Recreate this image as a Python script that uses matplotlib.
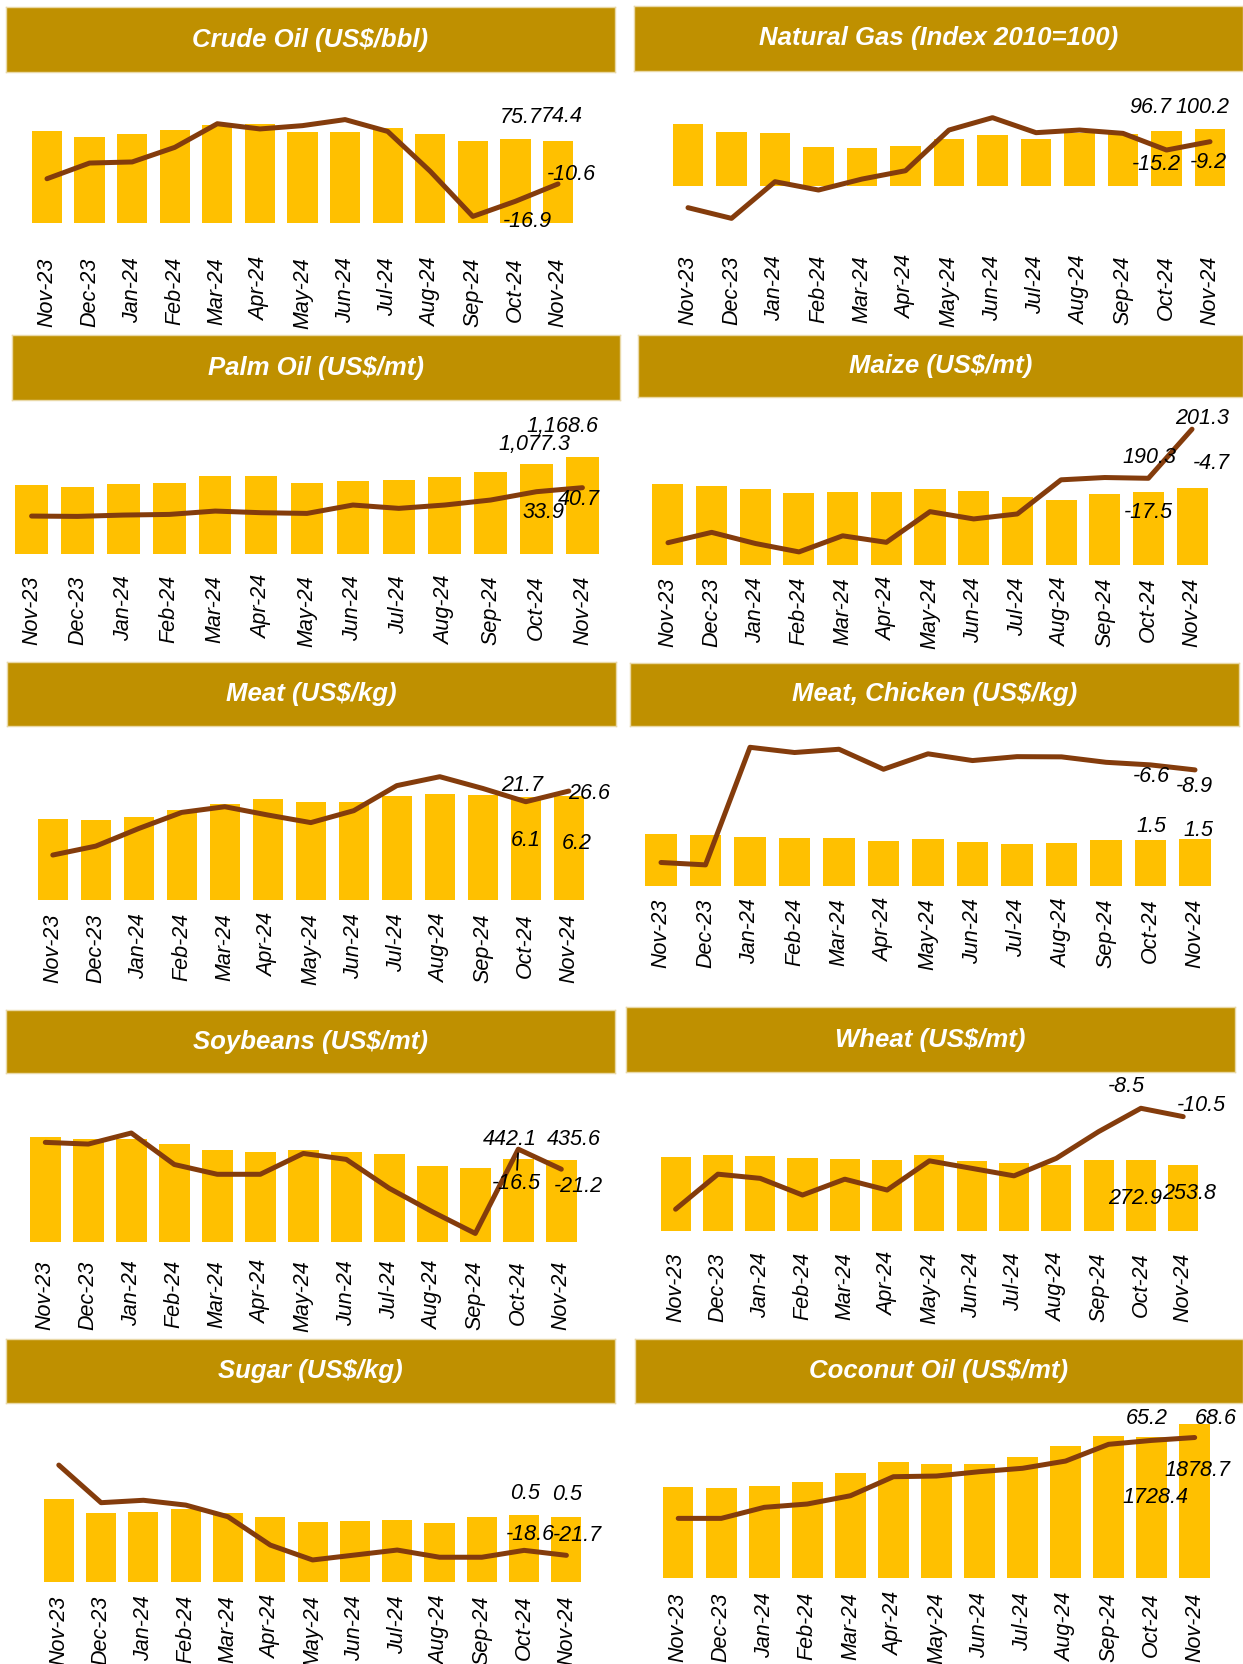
import matplotlib
matplotlib.use("Agg")
from matplotlib import pyplot as plt

W, H = 1243, 1664

months = ["Nov-23", "Dec-23", "Jan-24", "Feb-24", "Mar-24", "Apr-24", "May-24",
          "Jun-24", "Jul-24", "Aug-24", "Sep-24", "Oct-24", "Nov-24"]

titles = ["Crude Oil (US$/bbl)", "Natural Gas (Index 2010=100)", "Palm Oil (US$/mt)",
          "Maize (US$/mt)", "Meat (US$/kg)", "Meat, Chicken (US$/kg)",
          "Soybeans (US$/mt)", "Wheat (US$/mt)", "Sugar (US$/kg)", "Coconut Oil (US$/mt)"]

# bars = price, line = % change year on year
crude_price = [82.9, 77.8, 80.2, 83.8, 89.0, 89.9, 82.0, 82.3, 85.7, 80.8, 74.2, 75.7, 74.4]
crude_yoy = [-8.7, -3.0, -2.6, 2.7, 11.3, 9.4, 10.6, 12.8, 8.5, -6.0, -22.4, -16.9, -10.6]

gas_price = [110.3, 94.9, 93.2, 68.4, 67.2, 70.2, 82.5, 90.2, 83.1, 93.7, 91.4, 96.7, 100.2]
gas_yoy = [-56.7, -64.4, -38.0, -44.0, -36.1, -30.1, -0.8, 8.1, -2.7, -0.8, -3.2, -15.2, -9.2]

palm_price = [830, 810, 842, 854, 942, 938, 858, 874, 894, 930, 982, 1077.3, 1168.6]
palm_yoy = [-7.6, -8.2, -5.9, -4.8, 0.9, -1.9, -3.1, 11.2, 5.5, 11.2, 19.7, 33.9, 40.7]

maize_price = [210.1, 205.7, 197.9, 188.4, 190.1, 191.0, 197.0, 192.7, 178.0, 169.3, 184.9, 190.3, 201.3]
maize_yoy = [-34.3, -31.6, -34.5, -36.7, -32.5, -34.2, -26.2, -28.1, -26.8, -17.9, -17.3, -17.5, -4.7]

meat_price = [4.83, 4.73, 4.95, 5.33, 5.70, 6.02, 5.84, 5.80, 6.16, 6.30, 6.26, 6.1, 6.2]
meat_yoy = [-2.8, 1.3, 9.4, 16.8, 19.4, 15.6, 12.1, 17.6, 29.1, 33.2, 27.8, 21.7, 26.6]

chicken_price = [1.68, 1.64, 1.57, 1.53, 1.53, 1.45, 1.52, 1.40, 1.35, 1.38, 1.46, 1.49, 1.52]
chicken_yoy = [-51.5, -52.6, 1.5, -0.9, 0.6, -8.6, -1.5, -4.6, -2.8, -2.9, -5.4, -6.6, -8.9]

soy_price = [554.5, 545.7, 547.5, 519.2, 487.4, 476.8, 489.2, 478.6, 468.0, 400.9, 390.3, 442.1, 435.6]
soy_yoy = [-14.9, -15.3, -12.7, -20.1, -22.4, -22.4, -17.5, -18.9, -25.7, -31.2, -36.3, -16.5, -21.2]

wheat_price = [284.4, 290.8, 285.7, 279.3, 275.4, 271.6, 289.5, 266.4, 260.0, 251.1, 270.3, 272.9, 253.8]
wheat_yoy = [-32.7, -24.3, -25.3, -29.3, -25.5, -28.1, -21.1, -22.9, -24.7, -20.5, -14.1, -8.5, -10.5]

sugar_price = [0.615, 0.511, 0.518, 0.538, 0.508, 0.481, 0.444, 0.451, 0.456, 0.434, 0.479, 0.496, 0.481]
sugar_yoy = [34.7, 11.2, 12.7, 9.7, 2.4, -15.3, -24.6, -21.5, -18.4, -22.9, -22.9, -18.6, -21.7]

coconut_price = [1114, 1106, 1127, 1171, 1285, 1423, 1399, 1395, 1476, 1619, 1737, 1728.4, 1878.7]
coconut_yoy = [-26.5, -26.5, -13.5, -9.6, 0.1, 22.5, 23.3, 28.4, 32.4, 40.9, 60.6, 65.2, 68.6]

prices = [crude_price, gas_price, palm_price, maize_price, meat_price,
          chicken_price, soy_price, wheat_price, sugar_price, coconut_price]
yoys = [crude_yoy, gas_yoy, palm_yoy, maize_yoy, meat_yoy,
        chicken_yoy, soy_yoy, wheat_yoy, sugar_yoy, coconut_yoy]
price_fmt = ["{:.1f}", "{:.1f}", "{:,.1f}", "{:.1f}", "{:.1f}",
             "{:.1f}", "{:.1f}", "{:.1f}", "{:.1f}", "{:.1f}"]

# layout in pixels: banner box, plot box (x0, y0, x1, y1), axis limits, label offsets
banners = [(6, 7, 615, 72), (634, 6, 1243, 71), (12, 335, 620, 400), (638, 335, 1243, 397),
           (7, 662, 616, 726), (630, 663, 1239, 726), (6, 1010, 615, 1073), (626, 1007, 1235, 1072),
           (6, 1339, 615, 1403), (635, 1339, 1243, 1403)]
plots = [(25.7, 72, 579.3, 253), (666.25, 71, 1231.75, 251), (8.65, 400, 605.35, 571),
         (646.15, 397, 1213.85, 573), (31.3, 726, 590.3, 909), (638.75, 726, 1217.25, 894),
         (23.8, 1073, 582.8, 1256), (654.45, 1072, 1204.35, 1248), (37.65, 1403, 587.55, 1591),
         (656.7, 1403, 1216.2, 1588)]
bar_lims = [(-27.1, 136.7), (-115, 203.5), (-204.6, 1853), (-20.8, 437.5), (-0.53, 10.33),
            (-0.26, 5.14), (-74.2, 895), (-66.5, 610), (-0.069, 1.33), (-118, 2138)]
line_lims = [(-35.7, 30.1), (-87.9, 41.7), (-101.2, 190.1), (-42.2, 3.7), (-27.6, 56.5),
             (-66.0, 11.3), (-41.6, 1.4), (-42.0, 0.2), (-44.0, 73.5), (-108.4, 109.2)]
bar_offs = [[(5, 22), (4, 24)], [(-16, 24), (-8, 22)], [(-2, 20), (-20, 30)], [(1, 34), (10, 69)],
            [(0, -43), (8, -48)], [(1, 13), (3, 8)], [(-8, 19), (13, 20)], [(-6, -39), (6, -29)],
            [(1, 22), (1, 23)], [(4, -61), (3, -46)]]
line_offs = [[(12, -20), (13, 9)], [(-10, -14), (-2, -21)], [(7, -21), (-4, -12)], [(0, -34), (19, -34)],
             [(-4, 16), (20, -2)], [(1, -12), (-1, -17)], [(-2, -34), (17, -17)], [(-14, 22), (18, 11)],
             [(6, 16), (11, 20)], [(-5, 22), (21, 19)]]

GOLD = "#BF9000"
BAR = "#FFC000"
LINE = "#843C0C"
plt.rcParams['font.family'] = ['Liberation Sans', 'DejaVu Sans']

def box(x0, y0, x1, y1):
    return [x0 / W, 1 - y1 / H, (x1 - x0) / W, (y1 - y0) / H]

fig = plt.figure(figsize=(W / 100, H / 100), dpi=100)

for k in range(10):
    # title banner
    b = fig.add_axes(box(*banners[k]))
    b.set_facecolor(GOLD)
    b.set_xticks([]); b.set_yticks([])
    for s in b.spines.values():
        s.set_color("#E9D8A6"); s.set_linewidth(1)
    b.text(0.5, 0.5, titles[k], color="white", fontsize=18.5, fontweight="bold",
           fontstyle="italic", ha="center", va="center", transform=b.transAxes)

    ax = fig.add_axes(box(*plots[k]))
    x = list(range(len(months)))
    ax.bar(x, prices[k], width=0.71, color=BAR, zorder=2)
    ax.set_xlim(-0.5, 12.5)
    ax.set_ylim(*bar_lims[k])
    ax.set_xticks(x)
    ax.set_xticklabels(months, rotation=90, fontsize=15.5, fontstyle="italic")
    ax.tick_params(axis="x", length=0, pad=3)
    ax.set_yticks([])
    for s in ax.spines.values():
        s.set_visible(False)
    ax.patch.set_visible(False)

    ax2 = ax.twinx()
    ax2.plot(x, yoys[k], color=LINE, lw=3.6, solid_capstyle="round",
             solid_joinstyle="round", clip_on=False)
    ax2.set_ylim(*line_lims[k])
    ax2.set_yticks([])
    for s in ax2.spines.values():
        s.set_visible(False)

    # labels on the last two months
    for j, i in enumerate([11, 12]):
        ax2.annotate(price_fmt[k].format(prices[k][i]), xy=(i, prices[k][i]), xycoords=ax.transData,
                     xytext=bar_offs[k][j], textcoords="offset pixels", ha="center", va="center",
                     fontsize=15.5, fontstyle="italic", annotation_clip=False)
        arrow = None
        if k == 6 and i == 11:
            arrow = dict(arrowstyle="-", color="black", lw=1.3, shrinkA=0, shrinkB=3)
        ax2.annotate("{:.1f}".format(yoys[k][i]), xy=(i, yoys[k][i]),
                     xytext=line_offs[k][j], textcoords="offset pixels", ha="center", va="center",
                     fontsize=15.5, fontstyle="italic", annotation_clip=False, arrowprops=arrow)

fig.savefig("out.png", dpi=100)
